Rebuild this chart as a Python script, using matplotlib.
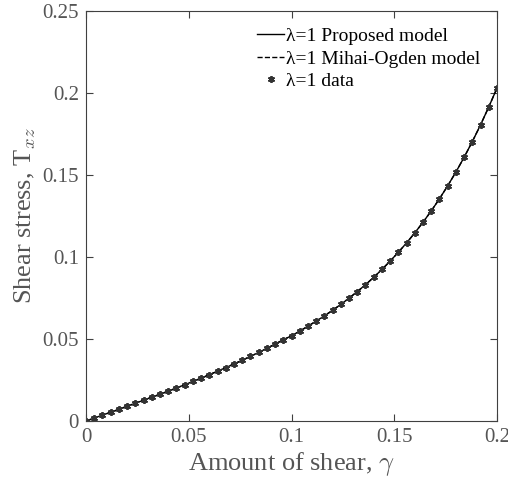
import numpy as np
import matplotlib
matplotlib.use("Agg")
import matplotlib.pyplot as plt

plt.rcParams['font.family'] = ['Liberation Serif', 'DejaVu Serif']
plt.rcParams['mathtext.fontset'] = 'cm'

gamma = [0.000, 0.004, 0.008, 0.012, 0.016, 0.020, 0.024, 0.028, 0.032, 0.036,
         0.040, 0.044, 0.048, 0.052, 0.056, 0.060, 0.064, 0.068, 0.072, 0.076,
         0.080, 0.084, 0.088, 0.092, 0.096, 0.100, 0.104, 0.108, 0.112, 0.116,
         0.120, 0.124, 0.128, 0.132, 0.136, 0.140, 0.144, 0.148, 0.152, 0.156,
         0.160, 0.164, 0.168, 0.172, 0.176, 0.180, 0.184, 0.188, 0.192, 0.196,
         0.200]
shear_stress = [0.0000, 0.0018, 0.0036, 0.0053, 0.0071, 0.0090, 0.0108, 0.0127, 0.0145, 0.0163,
                0.0182, 0.0201, 0.0221, 0.0241, 0.0261, 0.0282, 0.0304, 0.0325, 0.0348, 0.0370,
                0.0394, 0.0418, 0.0443, 0.0469, 0.0495, 0.0520, 0.0548, 0.0578, 0.0609, 0.0641,
                0.0675, 0.0711, 0.0749, 0.0789, 0.0831, 0.0876, 0.0924, 0.0975, 0.1029, 0.1086,
                0.1147, 0.1212, 0.1281, 0.1355, 0.1434, 0.1518, 0.1608, 0.1704, 0.1806, 0.1915,
                0.2030]
xticks = [0, 0.05, 0.1, 0.15, 0.2]
xtick_labels = ['0', '0.05', '0.1', '0.15', '0.2']
yticks = [0, 0.05, 0.1, 0.15, 0.2, 0.25]
ytick_labels = ['0', '0.05', '0.1', '0.15', '0.2', '0.25']

fig = plt.figure(figsize=(5.08, 4.84), dpi=100)
ax = fig.add_axes([86/508, 63/484, 411/508, 410/484])

ax.plot(gamma, shear_stress, '-', color='black', lw=1.0, label='λ=1 Proposed model')
ax.plot(gamma, shear_stress, '--', color='black', lw=1.0, label='λ=1 Mihai-Ogden model')
ax.plot(gamma, shear_stress, marker=(6, 2, 0), color='#333333', ms=5, mew=1.3,
        ls='none', label='λ=1 data')

ax.set_xlim(0, 0.2)
ax.set_ylim(0, 0.25)
ax.set_xticks(xticks)
ax.set_xticklabels(xtick_labels)
ax.set_yticks(yticks)
ax.set_yticklabels(ytick_labels)
ax.tick_params(direction='in', top=True, right=True, length=5, width=0.8,
               labelsize=15, colors='#404040', labelcolor='#555555', pad=5)
for s in ax.spines.values():
    s.set_color('#404040')
    s.set_linewidth(0.8)

ax.set_xlabel(r'Amount of shear, $\gamma$', fontsize=19, color='#555555', labelpad=2)
ax.set_ylabel(r'Shear stress, T$_{xz}$', fontsize=19, color='#555555', labelpad=3)

leg = ax.legend(loc='upper right', frameon=False, fontsize=14, handlelength=1.4,
                handletextpad=0.1, labelspacing=0.25, borderaxespad=0.45,
                bbox_to_anchor=(1.0, 1.0))

fig.savefig('out.png', dpi=100)
